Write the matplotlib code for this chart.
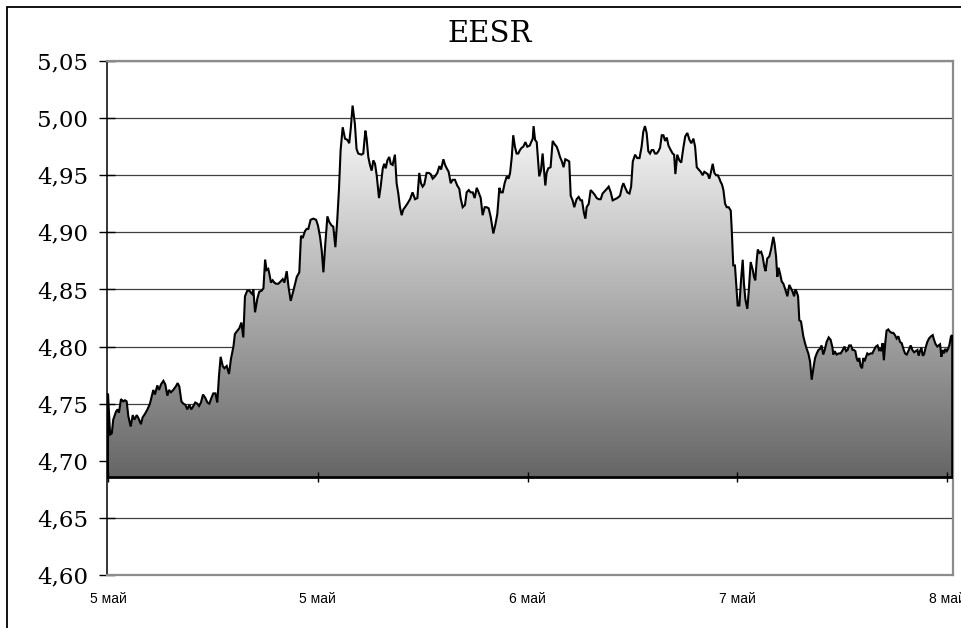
import numpy as np
import matplotlib
matplotlib.use('Agg')
import matplotlib.pyplot as plt
from matplotlib.colors import LinearSegmentedColormap
from matplotlib.patches import PathPatch, Rectangle
from matplotlib.ticker import FuncFormatter

# время в сутках от начала (5 май) и цена EESR
t_days = [
    0.000, 0.010, 0.018, 0.025, 0.038, 0.046, 0.052, 0.062, 0.073, 0.081, 0.089, 0.097, 0.108, 0.118, 0.126,
    0.137, 0.146, 0.157, 0.165, 0.176, 0.188, 0.200, 0.208, 0.216, 0.224, 0.235, 0.243, 0.253, 0.264, 0.273,
    0.283, 0.291, 0.300, 0.311, 0.323, 0.332, 0.340, 0.350, 0.359, 0.369, 0.378, 0.388, 0.397, 0.407, 0.416,
    0.426, 0.434, 0.443, 0.453, 0.464, 0.474, 0.483, 0.493, 0.502, 0.512, 0.521, 0.529, 0.537, 0.547, 0.555,
    0.566, 0.577, 0.586, 0.598, 0.605, 0.613, 0.626, 0.636, 0.645,
    0.653, 0.664, 0.674, 0.682, 0.688, 0.693, 0.701, 0.712, 0.721, 0.733, 0.741, 0.749, 0.756, 0.764, 0.769,
    0.777, 0.785, 0.793, 0.801, 0.812, 0.823, 0.833, 0.841, 0.852, 0.861, 0.871, 0.884, 0.900, 0.912, 0.920,
    0.928, 0.939, 0.947, 0.955, 0.966, 0.979, 0.992, 1.001, 1.011, 1.019, 1.027, 1.036, 1.046, 1.055, 1.066,
    1.074, 1.084, 1.093, 1.101, 1.109, 1.119, 1.130, 1.141, 1.150, 1.158, 1.166, 1.177, 1.185, 1.193, 1.209,
    1.217, 1.227, 1.233, 1.241, 1.249, 1.257, 1.265, 1.273, 1.281, 1.292, 1.300, 1.310, 1.317, 1.324, 1.332,
    1.341,
    1.348, 1.357, 1.368, 1.376, 1.384, 1.392, 1.400, 1.408, 1.416, 1.427, 1.440, 1.452, 1.464, 1.475, 1.484,
    1.492, 1.500, 1.508, 1.519, 1.530, 1.538, 1.548, 1.559, 1.570, 1.580, 1.588, 1.599, 1.607, 1.615, 1.624,
    1.634, 1.643, 1.654, 1.665, 1.675, 1.681, 1.691, 1.702, 1.710, 1.720, 1.729, 1.739, 1.748, 1.758, 1.767,
    1.777, 1.786, 1.796, 1.805, 1.815, 1.825, 1.837, 1.847, 1.856, 1.866, 1.873, 1.882, 1.891, 1.901, 1.910,
    1.917, 1.925, 1.932, 1.940, 1.948, 1.956, 1.964, 1.972, 1.980, 1.990, 1.999, 2.011,
    2.015, 2.025, 2.029, 2.036, 2.044, 2.048, 2.056, 2.064, 2.072, 2.079, 2.085, 2.091, 2.099, 2.110, 2.120,
    2.130, 2.139, 2.147, 2.155, 2.164, 2.172, 2.180, 2.191, 2.199, 2.206, 2.215, 2.223, 2.234, 2.244, 2.253,
    2.260, 2.269, 2.276, 2.282, 2.292, 2.301, 2.311, 2.320, 2.330, 2.340, 2.349, 2.358, 2.368, 2.378, 2.387,
    2.397, 2.406, 2.417, 2.428, 2.441, 2.451, 2.457, 2.466, 2.476, 2.486, 2.494, 2.502, 2.513, 2.523, 2.534,
    2.544, 2.552, 2.560, 2.568, 2.576, 2.584, 2.592, 2.600, 2.608, 2.616, 2.624, 2.632, 2.640, 2.648, 2.656,
    2.664, 2.672, 2.680,
    2.686, 2.692, 2.699, 2.705, 2.714, 2.724, 2.733, 2.743, 2.752, 2.762, 2.772, 2.781, 2.791, 2.799, 2.807,
    2.816, 2.826, 2.835, 2.843, 2.851, 2.859, 2.867, 2.875, 2.883, 2.891, 2.899, 2.907, 2.915, 2.921, 2.927,
    2.934, 2.942, 2.950, 2.959, 2.969, 2.973, 2.981, 2.989, 2.997, 3.002, 3.010, 3.018, 3.026, 3.032, 3.039,
    3.048, 3.055, 3.064, 3.074, 3.080, 3.086, 3.093, 3.098, 3.106, 3.114, 3.121, 3.129, 3.135, 3.143, 3.153,
    3.161, 3.172, 3.178, 3.185, 3.191, 3.197, 3.204, 3.212, 3.220, 3.229, 3.239, 3.248, 3.256, 3.264, 3.271,
    3.277, 3.283, 3.290, 3.296, 3.304,
    3.315, 3.323, 3.331, 3.339, 3.347, 3.355, 3.363, 3.371, 3.379, 3.387, 3.395, 3.402, 3.410, 3.417, 3.426,
    3.436, 3.445, 3.453, 3.458, 3.464, 3.474, 3.483, 3.493, 3.503, 3.511, 3.519, 3.526, 3.534, 3.542, 3.550,
    3.556, 3.563, 3.569, 3.575, 3.582, 3.588, 3.595, 3.601, 3.607, 3.614, 3.620, 3.626, 3.636, 3.644, 3.652,
    3.661, 3.669, 3.676, 3.681, 3.687, 3.693, 3.699, 3.706, 3.712, 3.720, 3.728, 3.736, 3.744, 3.752, 3.760,
    3.768, 3.776, 3.784, 3.792, 3.800, 3.808, 3.818, 3.827, 3.835, 3.843, 3.851, 3.859, 3.865, 3.871, 3.878,
    3.884, 3.890, 3.898, 3.906, 3.914, 3.924, 3.932, 3.938, 3.946, 3.954, 3.960, 3.967, 3.973, 3.979, 3.986,
    3.992, 3.999, 4.005, 4.011, 4.019, 4.025,
]
price = [
    4.759, 4.723, 4.724, 4.736, 4.743, 4.745, 4.742, 4.754, 4.752, 4.753, 4.752, 4.739, 4.730, 4.740, 4.736,
    4.740, 4.737, 4.732, 4.738, 4.741, 4.745, 4.750, 4.756, 4.762, 4.758, 4.766, 4.762, 4.767, 4.770, 4.767,
    4.757, 4.762, 4.760, 4.762, 4.765, 4.768, 4.765, 4.752, 4.750, 4.749, 4.745, 4.749, 4.745, 4.748, 4.751,
    4.750, 4.748, 4.751, 4.758, 4.755, 4.751, 4.750, 4.755, 4.759, 4.759, 4.751, 4.774, 4.791, 4.783, 4.781,
    4.783, 4.776, 4.789, 4.800, 4.811, 4.813, 4.816, 4.821, 4.808,
    4.844, 4.849, 4.849, 4.847, 4.846, 4.850, 4.830, 4.842, 4.848, 4.849, 4.851, 4.876, 4.867, 4.868, 4.864,
    4.856, 4.858, 4.856, 4.855, 4.855, 4.857, 4.859, 4.856, 4.866, 4.852, 4.840, 4.849, 4.861, 4.865, 4.897,
    4.895, 4.901, 4.903, 4.903, 4.911, 4.912, 4.911, 4.906, 4.896, 4.884, 4.865, 4.890, 4.914, 4.909, 4.906,
    4.905, 4.887, 4.911, 4.937, 4.972, 4.992, 4.982, 4.981, 4.978, 4.992, 5.011, 4.995, 4.973, 4.969, 4.968,
    4.969, 4.989, 4.982, 4.966, 4.959, 4.954, 4.963, 4.960, 4.950, 4.930, 4.940, 4.956, 4.960, 4.956, 4.963,
    4.966,
    4.960, 4.959, 4.968, 4.943, 4.934, 4.922, 4.915, 4.920, 4.922, 4.925, 4.929, 4.935, 4.929, 4.930, 4.952,
    4.943, 4.940, 4.942, 4.952, 4.952, 4.951, 4.947, 4.949, 4.952, 4.958, 4.955, 4.964, 4.959, 4.956, 4.953,
    4.943, 4.946, 4.946, 4.941, 4.938, 4.930, 4.922, 4.924, 4.935, 4.937, 4.935, 4.935, 4.930, 4.939, 4.935,
    4.930, 4.915, 4.922, 4.922, 4.921, 4.913, 4.899, 4.907, 4.916, 4.939, 4.935, 4.935, 4.943, 4.949, 4.947,
    4.952, 4.966, 4.985, 4.975, 4.969, 4.969, 4.972, 4.974, 4.975, 4.979, 4.975, 4.976,
    4.978, 4.982, 4.993, 4.981, 4.979, 4.969, 4.949, 4.954, 4.969, 4.954, 4.941, 4.952, 4.956, 4.957, 4.980,
    4.977, 4.975, 4.971, 4.966, 4.962, 4.957, 4.964, 4.963, 4.962, 4.932, 4.928, 4.922, 4.929, 4.931, 4.928,
    4.928, 4.917, 4.912, 4.922, 4.925, 4.937, 4.935, 4.933, 4.930, 4.929, 4.929, 4.934, 4.936, 4.938, 4.940,
    4.935, 4.928, 4.929, 4.930, 4.932, 4.940, 4.943, 4.939, 4.935, 4.934, 4.940, 4.962, 4.968, 4.965, 4.965,
    4.975, 4.988, 4.993, 4.987, 4.971, 4.969, 4.972, 4.972, 4.969, 4.969, 4.971, 4.974, 4.985, 4.985, 4.980,
    4.983, 4.976, 4.973,
    4.971, 4.969, 4.968, 4.951, 4.968, 4.963, 4.961, 4.974, 4.984, 4.987, 4.981, 4.978, 4.982, 4.975, 4.957,
    4.955, 4.953, 4.950, 4.953, 4.952, 4.951, 4.947, 4.953, 4.960, 4.952, 4.950, 4.950, 4.947, 4.944, 4.942,
    4.937, 4.925, 4.922, 4.922, 4.919, 4.905, 4.871, 4.871, 4.849, 4.836, 4.836, 4.858, 4.876, 4.855, 4.841,
    4.833, 4.849, 4.874, 4.867, 4.861, 4.858, 4.876, 4.885, 4.882, 4.883, 4.879, 4.870, 4.866, 4.877, 4.879,
    4.885, 4.896, 4.890, 4.879, 4.861, 4.869, 4.864, 4.857, 4.855, 4.850, 4.844, 4.854, 4.851, 4.848, 4.844,
    4.850, 4.848, 4.844, 4.823, 4.822,
    4.809, 4.803, 4.798, 4.794, 4.787, 4.771, 4.781, 4.790, 4.794, 4.797, 4.798, 4.801, 4.793, 4.797, 4.804,
    4.808, 4.806, 4.800, 4.793, 4.796, 4.793, 4.794, 4.794, 4.797, 4.800, 4.796, 4.797, 4.801, 4.801, 4.797,
    4.797, 4.796, 4.790, 4.787, 4.790, 4.783, 4.781, 4.790, 4.787, 4.791, 4.794, 4.793, 4.794, 4.794, 4.797,
    4.800, 4.801, 4.797, 4.798, 4.796, 4.803, 4.788, 4.804, 4.814, 4.815, 4.813, 4.812, 4.812, 4.810, 4.807,
    4.809, 4.804, 4.803, 4.798, 4.794, 4.793, 4.797, 4.801, 4.797, 4.795, 4.796, 4.797, 4.792, 4.796, 4.799,
    4.792, 4.793, 4.799, 4.804, 4.807, 4.809, 4.810, 4.806, 4.802, 4.800, 4.801, 4.802, 4.791, 4.797, 4.794,
    4.798, 4.796, 4.798, 4.801, 4.809, 4.810,
]

tick_pos = [0, 1, 2, 3, 4]
tick_labels = ['5 май', '5 май', '6 май', '7 май', '8 май']
y_ticks = [4.60, 4.65, 4.70, 4.75, 4.80, 4.85, 4.90, 4.95, 5.00, 5.05]
axis_cross = 4.686  # ось X пересекает Y здесь

t = np.array(t_days)
p = np.array(price)

fig = plt.figure(figsize=(9.61, 6.28), dpi=100)
ax = fig.add_axes([107 / 961, 1 - 575 / 628, (953 - 107) / 961, (575 - 61) / 628])

# рамка вокруг всей картинки
fig.patches.append(Rectangle((7 / 961, -0.05), 1.2, 1 - 7 / 628 + 0.05, transform=fig.transFigure,
                             fill=False, edgecolor='black', linewidth=1.3))

# сетка
for yv in y_ticks:
    ax.axhline(yv, color='#404040', linewidth=0.9, zorder=1)

# заливка с градиентом
poly = ax.fill_between(t, axis_cross, p, facecolor='none', edgecolor='none')
path = poly.get_paths()[0]
clip = PathPatch(path, transform=ax.transData, facecolor='none', edgecolor='none')
ax.add_patch(clip)
cmap = LinearSegmentedColormap.from_list('grey', ['#666666', '#ffffff'])
grad = np.linspace(1, 0, 256).reshape(-1, 1)
im = ax.imshow(grad, cmap=cmap, vmin=0, vmax=1, extent=[t[0], t[-1], axis_cross, p.max()],
               aspect='auto', origin='upper', zorder=2)
im.set_clip_path(clip)

# контур ряда
tx = np.concatenate([[t[0]], t, [t[-1]]])
py = np.concatenate([[axis_cross], p, [axis_cross]])
ax.plot(tx, py, color='black', linewidth=1.5, zorder=3, solid_joinstyle='miter')

# ось X на уровне 4,686
ax.axhline(axis_cross, color='black', linewidth=2, zorder=4)
ax.plot(tick_pos, [axis_cross] * len(tick_pos), linestyle='none', marker='|', markersize=7,
        markeredgewidth=1, color='black', zorder=4)

ax.set_xlim((107 - 108) / 209.75, (953 - 108) / 209.75)
ax.set_ylim(4.60, 5.05)

ax.set_yticks(y_ticks)
ax.yaxis.set_major_formatter(FuncFormatter(lambda v, pos: f'{v:.2f}'.replace('.', ',')))
ax.tick_params(axis='y', direction='inout', length=11, width=1, pad=8, labelsize=16.5)
for lab in ax.get_yticklabels():
    lab.set_family('DejaVu Serif')

ax.set_xticks(tick_pos)
ax.set_xticklabels(tick_labels, family=['Liberation Sans Narrow', 'Liberation Sans'], fontsize=10)
ax.tick_params(axis='x', length=0, pad=12)

for s in ['top', 'right', 'bottom']:
    ax.spines[s].set_color('#8c8c8c')
    ax.spines[s].set_linewidth(1.6)
ax.spines['left'].set_color('black')
ax.spines['left'].set_linewidth(1.1)

fig.text(490 / 961, 1 - 34 / 628, 'EESR', ha='center', va='center', fontsize=21, family='DejaVu Serif')

fig.savefig('out.png', dpi=100)
